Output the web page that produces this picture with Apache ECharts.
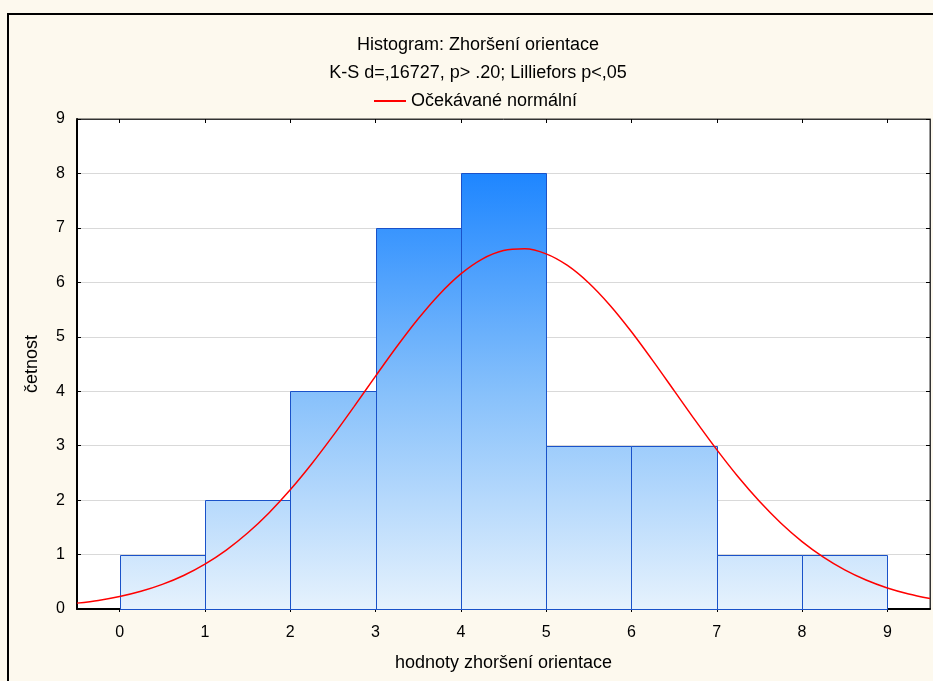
<!DOCTYPE html>
<html>
<head>
<meta charset="utf-8">
<title>Histogram: Zhoršení orientace</title>
<script src="https://cdn.jsdelivr.net/npm/echarts@6/dist/echarts.min.js"></script>
<style>
  html, body { margin: 0; padding: 0; background: #fdf9ee; }
  #chart { width: 933px; height: 681px; }
</style>
</head>
<body>
<div id="chart"></div>
<script>
// Histogram bins (lower edge, upper edge) and their counts
const binStarts = [0, 1, 2, 3, 4, 5, 6, 7, 8];
const binEnds   = [1, 2, 3, 4, 5, 6, 7, 8, 9];
const counts    = [1, 2, 4, 7, 8, 3, 3, 1, 1];

// Expected normal curve, sampled every 0.25 along the x axis
const curveX = [-0.5, -0.25, 0, 0.25, 0.5, 0.75, 1, 1.25, 1.5, 1.75, 2, 2.25, 2.5, 2.75,
                3, 3.25, 3.5, 3.75, 4, 4.25, 4.5, 4.75, 5, 5.25, 5.5, 5.75, 6, 6.25,
                6.5, 6.75, 7, 7.25, 7.5, 7.75, 8, 8.25, 8.5, 8.75, 9, 9.25, 9.5];
const curveY = [0.108, 0.158, 0.229, 0.325, 0.452, 0.616, 0.825, 1.083, 1.396, 1.765, 2.189, 2.663, 3.179, 3.722,
                4.277, 4.821, 5.331, 5.783, 6.155, 6.427, 6.584, 6.616, 6.523, 6.310, 5.988, 5.575, 5.092, 4.562,
                4.011, 3.459, 2.927, 2.429, 1.979, 1.581, 1.239, 0.953, 0.719, 0.532, 0.386, 0.275, 0.192];

// Tick labels
const xTicks = [0, 1, 2, 3, 4, 5, 6, 7, 8, 9];
const yTicks = [0, 1, 2, 3, 4, 5, 6, 7, 8, 9];

const titleText = 'Histogram: Zhoršení orientace\nK-S d=,16727, p> .20; Lilliefors p<,05';
const legendName = 'Očekávané normální';
const xName = 'hodnoty zhoršení orientace';
const yName = 'četnost';

const FONT = "'Liberation Sans', Arial, sans-serif";

const histData = binStarts.map((s, i) => [s, binEnds[i], counts[i]]);
const curveData = curveX.map((x, i) => [x, curveY[i]]);

const chart = echarts.init(document.getElementById('chart'), null, { renderer: 'canvas' });

const option = {
  backgroundColor: '#fdf9ee',
  animation: false,
  textStyle: { fontFamily: FONT },
  graphic: [{
    type: 'rect',
    silent: true,
    z: -10,
    shape: { x: 8, y: 14, width: 1000, height: 1000 },
    style: { fill: 'none', stroke: '#000', lineWidth: 2 }
  }],
  title: {
    text: titleText,
    left: 473,
    top: 26,
    textAlign: 'center',
    textStyle: {
      fontFamily: FONT, fontSize: 18, fontWeight: 'normal',
      color: '#000', lineHeight: 28
    }
  },
  legend: {
    left: 369,
    top: 87,
    data: [{ name: legendName, icon: 'rect' }],
    itemWidth: 32,
    itemHeight: 2,
    itemGap: 10,
    textStyle: { fontFamily: FONT, fontSize: 18, color: '#000' }
  },
  grid: {
    left: 77, right: 3, top: 119, bottom: 72,
    show: true,
    backgroundColor: '#ffffff',
    borderColor: '#333',
    borderWidth: 1
  },
  xAxis: [{
    type: 'value',
    min: -0.5,
    max: 9.5,
    name: xName,
    nameLocation: 'middle',
    nameGap: 45,
    nameTextStyle: { fontFamily: FONT, fontSize: 18, color: '#000' },
    axisLine: { show: true, onZero: false, lineStyle: { color: '#000', width: 2 } },
    axisTick: { show: true, inside: false, length: 3, customValues: xTicks, lineStyle: { color: '#000' } },
    axisLabel: { customValues: xTicks, margin: 16, fontFamily: FONT, fontSize: 16, color: '#000' },
    splitLine: { show: false }
  }, {
    type: 'value',
    position: 'top',
    min: -0.5,
    max: 9.5,
    axisLine: { show: true, onZero: false, lineStyle: { color: '#333', width: 1 } },
    axisTick: { show: true, inside: true, length: 4, customValues: xTicks, lineStyle: { color: '#000' } },
    axisLabel: { show: false },
    splitLine: { show: false }
  }],
  yAxis: [{
    type: 'value',
    position: 'left',
    min: 0,
    max: 9,
    interval: 1,
    name: yName,
    nameLocation: 'middle',
    nameGap: 36,
    nameRotate: 90,
    nameTextStyle: { fontFamily: FONT, fontSize: 18, color: '#000' },
    axisLine: { show: true, onZero: false, lineStyle: { color: '#000', width: 2 } },
    axisTick: { show: true, inside: true, length: 4, lineStyle: { color: '#000' } },
    axisLabel: {
      margin: 12, fontFamily: FONT, fontSize: 16, color: '#000',
      formatter: v => (yTicks.indexOf(v) >= 0 ? String(v) : '')
    },
    splitLine: { show: true, lineStyle: { color: '#d9d9d9', width: 1 } }
  }, {
    type: 'value',
    position: 'right',
    min: 0,
    max: 9,
    interval: 1,
    axisLine: { show: true, onZero: false, lineStyle: { color: '#333', width: 1 } },
    axisTick: { show: true, inside: true, length: 4, lineStyle: { color: '#000' } },
    axisLabel: { show: false },
    splitLine: { show: false }
  }],
  series: [{
    name: 'četnost',
    type: 'custom',
    xAxisIndex: 0,
    yAxisIndex: 0,
    data: histData,
    encode: { x: [0, 1], y: 2 },
    z: 2,
    renderItem: function (params, api) {
      const p0 = api.coord([api.value(0), 0]);
      const p1 = api.coord([api.value(1), api.value(2)]);
      const gTop = api.coord([0, 8])[1];
      const gBottom = api.coord([0, 0])[1];
      return {
        type: 'rect',
        shape: {
          x: Math.round(p0[0]) + 0.5,
          y: Math.round(p1[1]) + 0.5,
          width: Math.round(p1[0]) - Math.round(p0[0]),
          height: Math.round(p0[1]) - Math.round(p1[1])
        },
        style: {
          fill: {
            type: 'linear', global: true,
            x: 0, y: gTop, x2: 0, y2: gBottom,
            colorStops: [
              { offset: 0, color: '#1e86ff' },
              { offset: 0.5, color: '#86c0fb' },
              { offset: 1, color: '#e6f2fd' }
            ]
          },
          stroke: '#1a52c9',
          lineWidth: 1
        }
      };
    }
  }, {
    name: legendName,
    type: 'line',
    xAxisIndex: 0,
    yAxisIndex: 0,
    data: curveData,
    smooth: 0.3,
    showSymbol: false,
    clip: true,
    z: 3,
    color: '#ff0000',
    lineStyle: { color: '#ff0000', width: 1.5 }
  }]
};

chart.setOption(option);
</script>
</body>
</html>
